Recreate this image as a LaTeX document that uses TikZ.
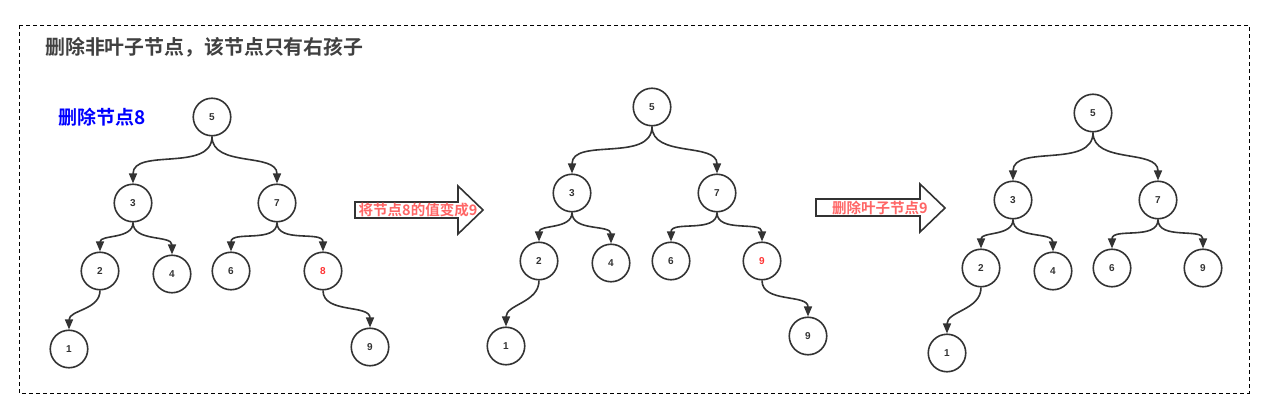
\documentclass[tikz,border=0pt]{standalone}
\usepackage{fontspec}
\setmainfont{Liberation Sans}
\newfontfamily\cjk{Noto Sans CJK SC}[BoldFont={Noto Sans CJK SC Bold}]
\usetikzlibrary{arrows.meta}
\definecolor{linegray}{HTML}{333333}
\definecolor{txtgray}{HTML}{404040}
\definecolor{hlred}{HTML}{FF3333}
\definecolor{notered}{HTML}{FF6666}
\tikzset{
  vertex/.style={circle, draw=linegray, line width=1.6pt, minimum size=37.5pt, inner sep=0pt,
    font=\bfseries\fontsize{10}{10}\selectfont, text=linegray},
  edge/.style={draw=linegray, line width=1.6pt, -{Triangle[length=10pt,width=8pt]}},
  bigarrow/.style={draw=linegray, line width=1.6pt, line join=miter},
  notetext/.style={font=\cjk\bfseries\fontsize{14.5}{14.5}\selectfont, text=notered, inner sep=0pt}
}
\begin{document}
\begin{tikzpicture}[x=1pt,y=1pt]
      \useasboundingbox (0,0) rectangle (1272,-414);
      \draw [black, line width=0.9pt, dash pattern=on 4pt off 3pt] (19,-25) rectangle (1249,-393);
      \node [anchor=west, inner sep=0pt, text=txtgray, font=\cjk\bfseries\fontsize{19.9}{19.9}\selectfont] (title) at (45,-47) {删除非叶子节点，该节点只有右孩子};
      \node [anchor=west, inner sep=0pt, text=blue, font=\cjk\bfseries\fontsize{19}{19}\selectfont] (del) at (58,-117) {删除节点8};
      % first tree
      \node [vertex] (a5) at (212,-117) {5};
      \node [vertex] (a3) at (133,-203) {3};
      \node [vertex] (a7) at (277,-203) {7};
      \node [vertex] (a2) at (100,-271) {2};
      \node [vertex] (a4) at (172,-274) {4};
      \node [vertex] (a6) at (231,-271) {6};
      \node [vertex, text=hlred] (a8) at (323,-271) {8};
      \node [vertex] (a1) at (69,-349) {1};
      \node [vertex] (a9) at (370,-347) {9};
      \draw [edge] (a5.south) to[out=-90,in=90] (a3.north);
      \draw [edge] (a5.south) to[out=-90,in=90] (a7.north);
      \draw [edge] (a3.south) to[out=-90,in=90] (a2.north);
      \draw [edge] (a3.south) to[out=-90,in=90] (a4.north);
      \draw [edge] (a7.south) to[out=-90,in=90] (a6.north);
      \draw [edge] (a7.south) to[out=-90,in=90] (a8.north);
      \draw [edge] (a2.south) to[out=-90,in=90] (a1.north);
      \draw [edge] (a8.south) to[out=-90,in=90] (a9.north);
      % first step
      \draw [bigarrow] (355,-202) -- (458,-202) -- (458,-186) -- (483,-210) -- (458,-234) -- (458,-218) -- (355,-218) -- cycle;
      \node [notetext] (step1) at (418,-210) {将节点8的值变成9};
      % second tree
      \node [vertex] (b5) at (652,-107) {5};
      \node [vertex] (b3) at (572,-193) {3};
      \node [vertex] (b7) at (717,-193) {7};
      \node [vertex] (b2) at (539,-261) {2};
      \node [vertex] (b4) at (611,-263) {4};
      \node [vertex] (b6) at (671,-261) {6};
      \node [vertex, text=hlred] (b8) at (762,-261) {9};
      \node [vertex] (b1) at (506,-346) {1};
      \node [vertex] (b9) at (808,-336) {9};
      \draw [edge] (b5.south) to[out=-90,in=90] (b3.north);
      \draw [edge] (b5.south) to[out=-90,in=90] (b7.north);
      \draw [edge] (b3.south) to[out=-90,in=90] (b2.north);
      \draw [edge] (b3.south) to[out=-90,in=90] (b4.north);
      \draw [edge] (b7.south) to[out=-90,in=90] (b6.north);
      \draw [edge] (b7.south) to[out=-90,in=90] (b8.north);
      \draw [edge] (b2.south) to[out=-90,in=90] (b1.north);
      \draw [edge] (b8.south) to[out=-90,in=90] (b9.north);
      % second step
      \draw [bigarrow] (816,-199) -- (920,-199) -- (920,-184) -- (945,-208) -- (920,-232) -- (920,-216) -- (816,-216) -- cycle;
      \node [notetext] (step2) at (880,-208) {删除叶子节点9};
      % third tree
      \node [vertex] (c5) at (1093,-113) {5};
      \node [vertex] (c3) at (1013,-200) {3};
      \node [vertex] (c7) at (1158,-200) {7};
      \node [vertex] (c2) at (981,-268) {2};
      \node [vertex] (c4) at (1053,-271) {4};
      \node [vertex] (c6) at (1112,-268) {6};
      \node [vertex] (c9) at (1203,-268) {9};
      \node [vertex] (c1) at (947,-353) {1};
      \draw [edge] (c5.south) to[out=-90,in=90] (c3.north);
      \draw [edge] (c5.south) to[out=-90,in=90] (c7.north);
      \draw [edge] (c3.south) to[out=-90,in=90] (c2.north);
      \draw [edge] (c3.south) to[out=-90,in=90] (c4.north);
      \draw [edge] (c7.south) to[out=-90,in=90] (c6.north);
      \draw [edge] (c7.south) to[out=-90,in=90] (c9.north);
      \draw [edge] (c2.south) to[out=-90,in=90] (c1.north);
\end{tikzpicture}
\end{document}
